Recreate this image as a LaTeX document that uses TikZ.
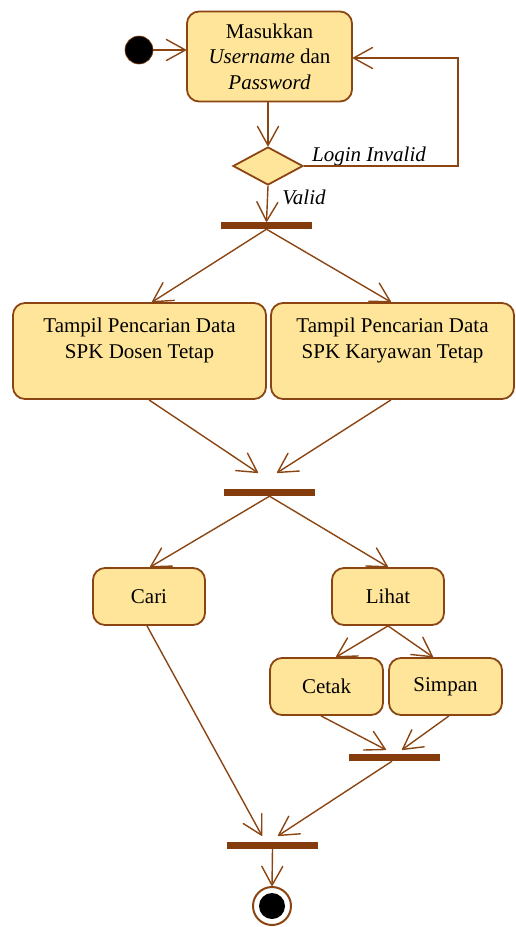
\documentclass[tikz,border=0pt]{standalone}
\usepackage{fontspec}
\setmainfont{Liberation Serif}
\usetikzlibrary{arrows.meta,shapes.geometric,calc}
\definecolor{actfill}{RGB}{255,229,153}
\definecolor{actline}{RGB}{139,69,19}
\definecolor{barcol}{RGB}{132,60,12}
\begin{document}
\begin{tikzpicture}[x=1pt,y=-1pt,
  font=\fontsize{21}{25.5}\selectfont,
  act/.style={draw=actline, fill=actfill, line width=1.8pt, rounded corners=12pt, align=center, inner sep=0pt},
  bar/.style={fill=barcol, draw=none, minimum width=91pt, minimum height=7pt, inner sep=0pt},
  flow/.style={draw=actline, line width=1.4pt, -{Straight Barb[length=19pt,width=21pt,line width=1.4pt,round]}},
  lbl/.style={inner sep=0pt, font=\fontsize{21}{25.5}\selectfont\itshape}]
\useasboundingbox (0,0) rectangle (515,927);
\node[circle, fill=black, draw=actline, line width=0.6pt, minimum size=28pt, inner sep=0pt] (start) at (139,50) {};
\node[act, minimum width=165pt, minimum height=90pt] (login) at (269.5,56.5) {Masukkan\\\textit{Username} dan\\\textit{Password}};
\node[diamond, draw=actline, fill=actfill, line width=1.8pt, aspect=1.84, minimum width=70pt, minimum height=38pt, inner sep=0pt] (dec) at (268,166) {};
\node[lbl] (linv) at (369,156) {Login Invalid};
\node[lbl] (lval) at (304,197) {Valid};
\node[bar] (bar1) at (266.5,225.5) {};
\node[act, minimum width=253pt, minimum height=96pt] (b1) at (139.5,351) {Tampil Pencarian Data\\SPK Dosen Tetap\\~};
\node[act, minimum width=243pt, minimum height=96pt] (b2) at (392.5,351) {Tampil Pencarian Data\\SPK Karyawan Tetap\\~};
\node[bar] (bar2) at (269.5,492.5) {};
\node[act, minimum width=112pt, minimum height=57pt] (cari) at (149,596.5) {Cari};
\node[act, minimum width=112pt, minimum height=57pt] (lihat) at (388,596.5) {Lihat};
\node[act, minimum width=113pt, minimum height=57pt] (cetak) at (326.5,686.5) {Cetak};
\node[act, minimum width=113pt, minimum height=57pt] (simpan) at (445.5,686.5) {Simpan};
\node[bar] (bar3) at (394.5,757.5) {};
\node[bar] (bar4) at (272.5,845.5) {};
\node[circle, draw=actline, fill=white, line width=2pt, minimum size=38pt, inner sep=0pt] (final) at (272,906) {};
\node[circle, fill=black, minimum size=26pt, inner sep=0pt] (finalin) at (272,906) {};
\coordinate (loopc) at (458,166);
% connectors
\draw[flow] (start.east) -- (start.east -| login.west);
\draw[flow] ([xshift=-1.5pt]login.south) -- (dec.north);
\draw[flow] (dec.east) -- (loopc) |- ([yshift=-1.5pt]login.east);
\draw[flow] (dec.south) -- (bar1.north);
\draw[flow] (bar1.south) -- ([xshift=12.5pt]b1.north);
\draw[flow] (bar1.south) -- ([xshift=-1.5pt]b2.north);
\draw[flow] ([xshift=9.5pt]b1.south) -- ($(bar2.north)+(-11.5,-16)$);
\draw[flow] ([xshift=-1.5pt]b2.south) -- ($(bar2.north)+(7.5,-16)$);
\draw[flow] (bar2.south) -- ([xshift=1pt]cari.north);
\draw[flow] (bar2.south) -- (lihat.north);
\draw[flow] (lihat.south) -- ([xshift=9.5pt]cetak.north);
\draw[flow] (lihat.south) -- ([xshift=-12.5pt]simpan.north);
\draw[flow] ([xshift=-5.5pt]cetak.south) -- ($(bar3.north)+(-8.5,-4)$);
\draw[flow] ([xshift=3.5pt]simpan.south) -- ($(bar3.north)+(7.5,-4)$);
\draw[flow] ([xshift=-2.5pt]bar3.south) -- ($(bar4.north)+(5.5,-6)$);
\draw[flow] ([xshift=-2pt]cari.south) -- ($(bar4.north)+(-10.5,-6)$);
\draw[flow] (bar4.south) -- (final.north);
\end{tikzpicture}
\end{document}
